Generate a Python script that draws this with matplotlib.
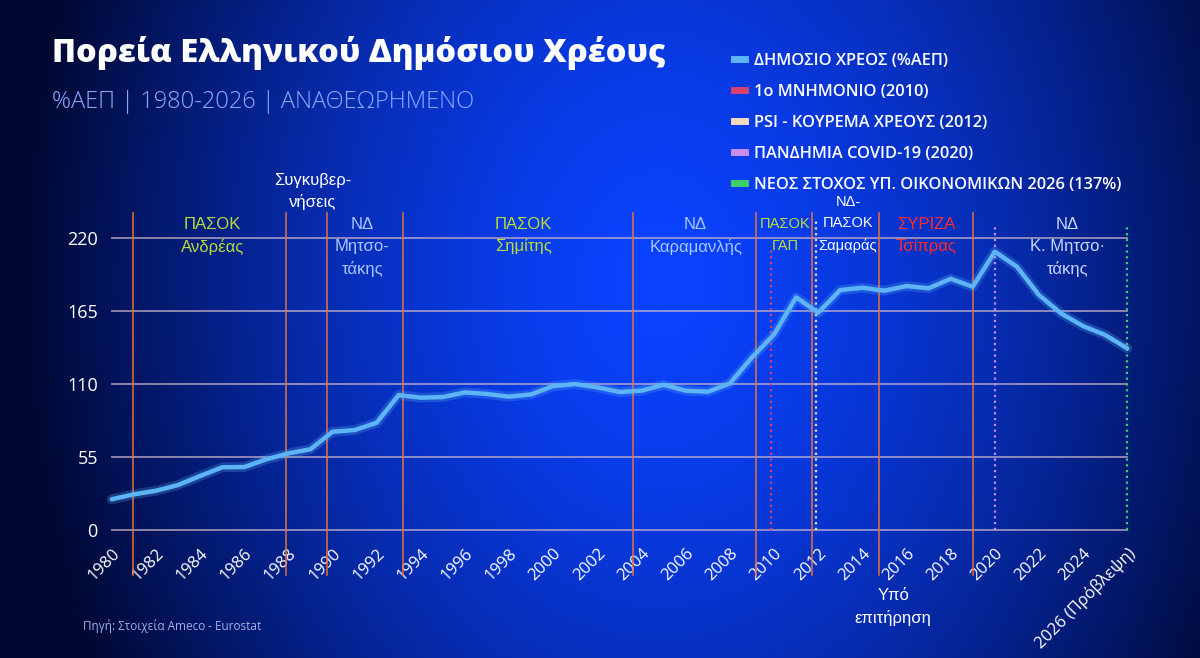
import numpy as np
import matplotlib
matplotlib.use("Agg")
import matplotlib.pyplot as plt
from matplotlib.lines import Line2D

# ---- data ----
years = list(range(1980, 2027))
debt = [23.2, 26.9, 29.6, 33.9, 40.7, 47.3, 47.5, 53.3, 57.8, 60.9,
        74.1, 75.4, 80.9, 101.8, 99.8, 100.3, 103.8, 102.6, 100.6, 102.3,
        108.6, 110.1, 107.6, 104.1, 105.1, 109.6, 105.1, 104.3, 110.6, 130.2,
        147.5, 175.5, 163.9, 181.0, 182.7, 180.5, 184.0, 182.3, 189.5, 183.5,
        209.9, 198.6, 177.2, 163.4, 153.8, 147.1, 137.0]

yticks = [0, 55, 110, 165, 220]
xticks = list(range(1980, 2027, 2))
xticklabels = [str(y) for y in xticks[:-1]] + ["2026 (Πρόβλεψη)"]

# changes of government (solid orange lines)
gov_changes = [1980.95, 1987.9, 1989.75, 1993.2, 2003.6, 2009.2, 2011.7, 2014.75, 2019.0]

# events (dotted lines)
event_years = [2009.85, 2011.9, 2020.0, 2026.0]
event_labels = ["1ο ΜΝΗΜΟΝΙΟ (2010)", "PSI - ΚΟΥΡΕΜΑ ΧΡΕΟΥΣ (2012)",
                "ΠΑΝΔΗΜΙΑ COVID-19 (2020)", "ΝΕΟΣ ΣΤΟΧΟΣ ΥΠ. ΟΙΚΟΝΟΜΙΚΩΝ 2026 (137%)"]
event_colors = ["#d8406e", "#f2dcc0", "#c98cf0", "#3fcf6a"]
event_tops = [213, 233, 229, 229]

# government labels: centre year, lines, colour
gov_x = [1984.55, 1991.35, 1998.65, 2006.45, 2013.35, 2016.9, 2023.3]
gov_lines = [["ΠΑΣΟΚ", "Ανδρέας"], ["ΝΔ", "Μητσο-", "τάκης"], ["ΠΑΣΟΚ", "Σημίτης"],
             ["ΝΔ", "Καραμανλής"], ["ΝΔ-", "ΠΑΣΟΚ", "Σαμαράς"], ["ΣΥΡΙΖΑ", "Τσίπρας"],
             ["ΝΔ", "Κ. Μητσο·", "τάκης"]]
gov_colors = ["#b9dc3c", "#a9c6ff", "#b9dc3c", "#a9c6ff", "white", "#ff2a2a", "#c4d6ff"]
gov_top = [236, 236, 236, 236, 253, 236, 236]

LINE_COLOR = "#5db4f7"

plt.rcParams['font.family'] = ['Liberation Sans', 'DejaVu Sans']

fig = plt.figure(figsize=(12, 6.58), dpi=100)

# background: radial blue glow
h, w = 329, 600
yy, xx = np.mgrid[0:h, 0:w]
d = np.sqrt(((xx - 330) / 320.0) ** 2 + ((yy - 140) / 420.0) ** 2)
t = np.clip(d, 0, 1) ** 1.5
bright = np.array([0.04, 0.26, 1.0])
dark = np.array([0.0, 0.03, 0.19])
img = bright[None, None, :] * (1 - t[..., None]) + dark[None, None, :] * t[..., None]
bg = fig.add_axes([0, 0, 1, 1])
bg.imshow(img, aspect='auto', extent=[0, 1, 0, 1], interpolation='bilinear')
bg.axis('off')
bg.set_zorder(0)

ax = fig.add_axes([0.0931, 0.1945, 0.8463, 0.4433])
ax.set_zorder(1)
ax.patch.set_alpha(0)
ax.set_xlim(1980, 2026)
ax.set_ylim(0, 220)
for s in ax.spines.values():
    s.set_visible(False)

# grid
for yv in yticks:
    ax.plot([1980, 2026], [yv, yv], color="#c8b4c8", lw=1.3, alpha=0.75, zorder=1, clip_on=False)

# government change lines
for xv in gov_changes:
    ax.plot([xv, xv], [-34, 239], color="#e8703c", lw=1.1, zorder=2, clip_on=False)

# events
for xv, c, top in zip(event_years, event_colors, event_tops):
    ax.plot([xv, xv], [0, top], color=c, lw=1.6, ls=(0, (1, 1.6)), zorder=2, clip_on=False)

# the debt line (with a soft glow)
ax.plot(years, debt, color=LINE_COLOR, lw=7, alpha=0.25, zorder=3, clip_on=False,
        solid_capstyle='round', solid_joinstyle='round')
ax.plot(years, debt, color=LINE_COLOR, lw=3.2, zorder=4, clip_on=False,
        solid_capstyle='round', solid_joinstyle='round')

ax.set_yticks(yticks)
ax.set_yticklabels([str(v) for v in yticks], fontsize=13, color="white", family="Open Sans")
ax.set_xticks(xticks)
ax.set_xticklabels(xticklabels, rotation=45, ha='right', rotation_mode='anchor',
                   fontsize=12, color="white", family="Open Sans")
ax.tick_params(axis='both', length=0)
ax.tick_params(axis='x', pad=11)
ax.tick_params(axis='y', pad=10)

# government labels
for xv, lines, c, top in zip(gov_x, gov_lines, gov_colors, gov_top):
    fs = 10.5 if lines[0] == "ΝΔ-" else 12
    for i, txt in enumerate(lines):
        ax.text(xv, top - i * 16.5, txt, color=c, fontsize=fs, ha='center', va='top', zorder=5)
ax.text(2010.5, 236, "ΠΑΣΟΚ", color="#b9dc3c", fontsize=10.5, ha='center', va='top', zorder=5)
ax.text(2010.5, 219.5, "ΓΑΠ", color="#b9dc3c", fontsize=10.5, ha='center', va='top', zorder=5)
ax.text(1989.1, 269, "Συγκυβερ-", color="white", fontsize=12, ha='center', va='top', zorder=5)
ax.text(1989.1, 253.5, "νήσεις", color="white", fontsize=12, ha='center', va='top', zorder=5)
ax.text(2015.4, -44, "Υπό", color="white", fontsize=12, ha='center', va='top', zorder=5)
ax.text(2015.4, -60.5, "επιτήρηση", color="white", fontsize=12, ha='center', va='top', zorder=5)

# title block
fig.text(0.043, 0.92, "Πορεία Ελληνικού Δημόσιου Χρέους", color="white", fontsize=23.4,
         fontweight='heavy', family="Open Sans", va='center')
fig.text(0.043, 0.845, "%ΑΕΠ | 1980-2026 | ΑΝΑΘΕΩΡΗΜΕΝΟ", color="#8aaaff", fontsize=17,
         family="Open Sans", fontweight='light', va='center')
fig.text(0.069, 0.048, "Πηγή: Στοιχεία Ameco - Eurostat", color="#9fb0e6", fontsize=8.5,
         family="Open Sans", va='center')

# legend
handles = [Line2D([0], [0], color=LINE_COLOR, lw=5)]
handles += [Line2D([0], [0], color=c, lw=5) for c in event_colors]
labels = ["ΔΗΜΟΣΙΟ ΧΡΕΟΣ (%ΑΕΠ)"] + event_labels
leg = fig.legend(handles, labels, loc='upper left', bbox_to_anchor=(0.599, 0.942),
                 frameon=False, handlelength=0.7, handletextpad=0.55, labelspacing=0.92,
                 prop={'family': 'Open Sans', 'size': 11.8, 'weight': 'semibold'})
for txt in leg.get_texts():
    txt.set_color("white")

fig.savefig("out.png", dpi=100)
